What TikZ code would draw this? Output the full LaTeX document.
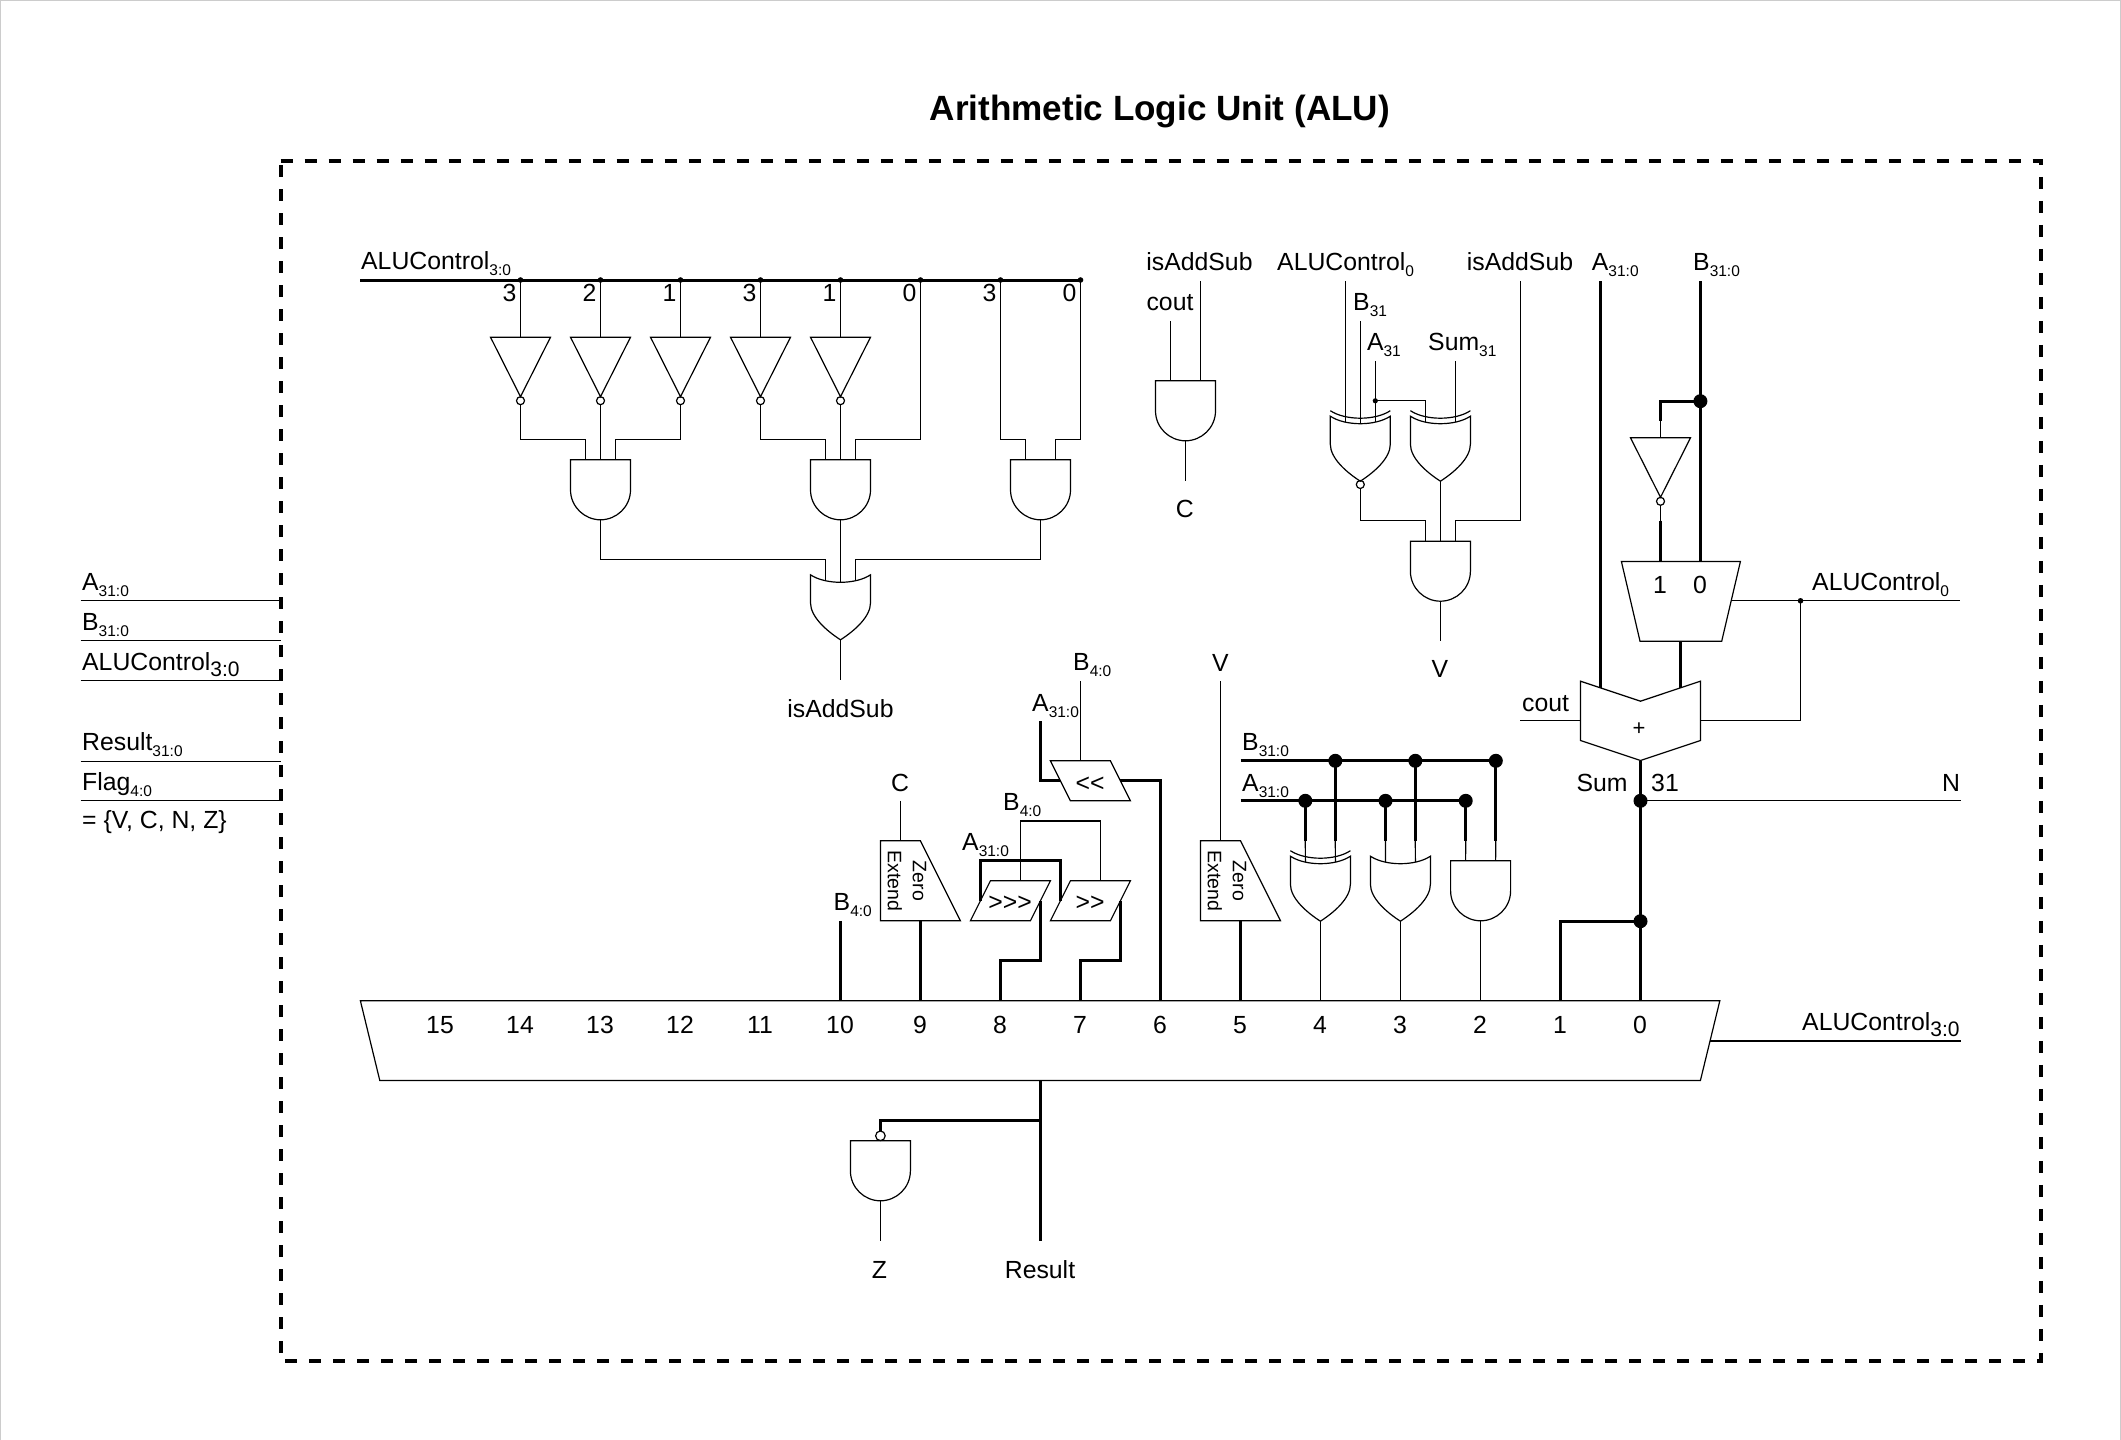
\documentclass[tikz,border=0pt]{standalone}
\usepackage{fontspec}
\setmainfont{Liberation Sans}
\newcommand{\lsub}[1]{\raisebox{-6pt}{\fontsize{15.5}{15.5}\selectfont #1}}
\newcommand{\bsub}[1]{\raisebox{-6pt}{\fontsize{21}{21}\selectfont #1}}
\tikzset{
  gatepath/.style={draw,line width=1.2pt,line join=miter},
  wire/.style={line width=1.2pt},
  midwire/.style={line width=2pt},
  buswire/.style={line width=3pt},
  lab/.style={inner sep=0pt,font=\fontsize{24.8}{28}\selectfont,anchor=base},
  labw/.style={lab,anchor=base west},
  andg/.pic={
    \draw[gatepath] (-30,0)--(30,0)--(30,30) .. controls (30,47) and (16,60) .. (0,60) .. controls (-16,60) and (-30,47) .. (-30,30) -- cycle;
    \coordinate (-l) at (-15,0); \coordinate (-m) at (0,0); \coordinate (-r) at (15,0); \coordinate (-out) at (0,60);
  },
  org/.pic={
    \draw[gatepath] (-30,0) .. controls (-15,10) and (15,10) .. (30,0) -- (30,28) .. controls (30,42) and (14,56) .. (0,65) .. controls (-14,56) and (-30,42) .. (-30,28) -- cycle;
    \coordinate (-l) at (-15,5.6); \coordinate (-m) at (0,7.5); \coordinate (-r) at (15,5.6); \coordinate (-out) at (0,65);
  },
  xorg/.pic={
    \draw[gatepath] (-30,0) .. controls (-15,10) and (15,10) .. (30,0) -- (30,28) .. controls (30,42) and (14,56) .. (0,65) .. controls (-14,56) and (-30,42) .. (-30,28) -- cycle;
    \draw[gatepath] (-30,-5.5) .. controls (-15,4.5) and (15,4.5) .. (30,-5.5);
    \coordinate (-l) at (-15,5.6); \coordinate (-m) at (0,7.5); \coordinate (-r) at (15,5.6); \coordinate (-out) at (0,65);
  },
  invg/.pic={
    \draw[gatepath] (-30,0)--(30,0)--(0,59.5)--cycle;
    \draw[gatepath] (0,63.5) circle[radius=4];
    \coordinate (-in) at (0,0); \coordinate (-out) at (0,67.5);
  },
  rshift/.pic={
    \draw[gatepath] (-20,-20)--(40,-20)--(20,20)--(-40,20)--cycle;
    \coordinate (-w) at (-30,0); \coordinate (-e) at (30,0); \coordinate (-t) at (10,-20);
  },
  lshift/.pic={
    \draw[gatepath] (-40,-20)--(20,-20)--(40,20)--(-20,20)--cycle;
    \coordinate (-w) at (-30,0); \coordinate (-e) at (30,0); \coordinate (-t) at (-10,-20);
  },
  zext/.pic={
    \draw[gatepath] (0,0)--(40,0)--(80,80)--(0,80)--cycle;
    \coordinate (-t) at (20,0); \coordinate (-b) at (40,80);
    \node[inner sep=0pt,rotate=-90,align=center,font=\fontsize{19.5}{25}\selectfont] (-txt) at (26.5,40) {Zero\\Extend};
  },
}
\begin{document}
\begin{tikzpicture}[x=1pt,y=-1pt]
\useasboundingbox (0,-0.5) rectangle (2121,1439.5);
% frame
\definecolor{framegray}{HTML}{CCCCCC}
\coordinate (fa) at (0.7,1440); \coordinate (fb) at (0.7,0.2); \coordinate (fc) at (2120.2,0.2); \coordinate (fd) at (2120.2,1440);
\draw[framegray,line width=1.4pt] (fa)--(fb)--(fc)--(fd);
% title and dashed box
\node[inner sep=0pt,anchor=base,font=\fontsize{35.1}{40}\selectfont\bfseries] (title) at (1159.8,120) {Arithmetic Logic Unit (ALU)};
\coordinate (ba) at (280.5,160.3); \coordinate (bb) at (2040.5,160.3); \coordinate (bc) at (2040.5,1360.3); \coordinate (bd) at (280.5,1360.3);
\draw[line width=4pt,dash pattern=on 12pt off 12pt] (ba)--(bb)--(bc)--(bd)--cycle;
% left ports
\foreach \n/\y in {pa/600.3,pb/640.3,pc/680,pd/760.7,pe/800.3}{
  \coordinate (\n l) at (80.7,\y); \coordinate (\n r) at (280.5,\y);
  \draw[wire] (\n l)--(\n r);
}
\node[labw] (ln1) at (82,590) {A\lsub{31:0}};
\node[labw] (ln2) at (82,629.5) {B\lsub{31:0}};
\node[labw] (ln3) at (82,670) {ALUControl\bsub{3:0}};
\node[labw] (ln4) at (82,750) {Result\lsub{31:0}};
\node[labw] (ln5) at (82,790) {Flag\lsub{4:0}};
\node[labw] (ln6) at (82,827.5) {= \{V, C, N, Z\}};
% ALUControl bus
\coordinate (bus0) at (360,279.5);
\foreach \i/\x in {1/520.5,2/600.5,3/680.5,4/760.5,5/840.5,6/920.5,7/1000.5,8/1080.5}{\coordinate (t\i) at (\x,279.5);}
\draw[buswire] (bus0)--(t8);
\foreach \i in {1,...,8}{\fill (t\i) circle[radius=2.8];}
\node[labw] (lbus) at (361,269) {ALUControl\lsub{3:0}};
\foreach \i/\d in {1/3,2/2,3/1,4/3,5/1,6/0,7/3,8/0}{
  \node[lab] (dg\i) at ({429.5+80*\i},301.2) {\d};
}
% inverters
\pic (i1) at (520.5,336.7) {invg};
\pic (i2) at (600.5,336.7) {invg};
\pic (i3) at (680.5,336.7) {invg};
\pic (i4) at (760.5,336.7) {invg};
\pic (i5) at (840.5,336.7) {invg};
\foreach \i in {1,...,5}{\draw[wire] (t\i)--(i\i-in);}
% ANDs
\pic (a1) at (600.5,459.3) {andg};
\pic (a2) at (840.5,459.3) {andg};
\pic (a3) at (1040.5,459.3) {andg};
\draw[wire] (i1-out) |- (a1-l |- 0,439.3) -- (a1-l);
\draw[wire] (i2-out) -- (a1-m);
\draw[wire] (i3-out) |- (a1-r |- 0,439.3) -- (a1-r);
\draw[wire] (i4-out) |- (a2-l |- 0,439.3) -- (a2-l);
\draw[wire] (i5-out) -- (a2-m);
\draw[wire] (t6) |- (a2-r |- 0,439.3) -- (a2-r);
\draw[wire] (t7) |- (a3-l |- 0,439.3) -- (a3-l);
\draw[wire] (t8) |- (a3-r |- 0,439.3) -- (a3-r);
% OR isAddSub
\pic (o1) at (840.5,574.3) {org};
\draw[wire] (a1-out) |- (o1-l |- 0,559.3) -- (o1-l);
\draw[wire] (a2-out) -- (o1-m);
\draw[wire] (a3-out) |- (o1-r |- 0,559.3) -- (o1-r);
\coordinate (o1e) at (840.5,679.3);
\draw[wire] (o1-out)--(o1e);
\node[lab] (lisa) at (840.5,717.2) {isAddSub};
% C gate
\pic (a4) at (1185.5,380.3) {andg};
\coordinate (cin1) at (1170.5,320.7); \coordinate (cin2) at (1200.5,280.7); \coordinate (cout1) at (1185.5,480.7);
\draw[wire] (cin1)--(a4-l);
\draw[wire] (cin2)--(a4-r);
\draw[wire] (a4-out)--(cout1);
\node[lab] (lisb) at (1199.5,270) {isAddSub};
\node[lab] (lcout) at (1170,310) {cout};
\node[lab] (lc) at (1184.7,517) {C};
% V gate
\pic (xn) at (1360.3,415.7) {xorg};
\pic (xo) at (1440.4,415.7) {xorg};
\pic (a5) at (1440.4,540.7) {andg};
\draw[gatepath] (1360.3,484) circle[radius=4];
\coordinate (xnout) at (1360.3,488);
\coordinate (vin1) at (1345.3,280.7); \coordinate (vin2) at (1360.3,320.7); \coordinate (vin3) at (1375.3,360.7);
\coordinate (vjn) at (1375.3,400.3); \coordinate (vin4) at (1455.4,360.7); \coordinate (vin5) at (1520.4,280.7); \coordinate (vout) at (1440.4,640.7);
\draw[wire] (vin1)--(xn-l);
\draw[wire] (vin2)--(xn-m);
\draw[wire] (vin3)--(xn-r);
\fill (vjn) circle[radius=2.6];
\draw[wire] (vjn) -| (xo-l);
\draw[wire] (vin4)--(xo-r);
\draw[wire] (xnout) |- (a5-l |- 0,520.3) -- (a5-l);
\draw[wire] (xo-out)--(a5-m);
\draw[wire] (vin5) |- (a5-r |- 0,520.3) -- (a5-r);
\draw[wire] (a5-out)--(vout);
\node[labw] (lctl0) at (1277,270) {ALUControl\lsub{0}};
\node[labw] (lb31) at (1353,310) {B\lsub{31}};
\node[labw] (la31) at (1366.8,350) {A\lsub{31}};
\node[labw] (lsum31) at (1428,350) {Sum\lsub{31}};
\node[lab] (lisc) at (1520,270) {isAddSub};
\node[lab] (lv2) at (1440,677.2) {V};
% adder and mux
\coordinate (ain) at (1600.5,280.7); \coordinate (aadd) at (1600.5,687.4);
\coordinate (bin) at (1700.4,280.7); \coordinate (bjn) at (1700.4,400.7); \coordinate (bmux) at (1700.4,561);
\coordinate (ibend) at (1660.5,420); \coordinate (ibot) at (1660.5,520); \coordinate (imux) at (1660.5,561);
\pic (i6) at (1660.5,437.3) {invg};
\draw[gatepath] (1621.4,561)--(1740.4,561)--(1721.7,640.7)--(1640,640.7)--cycle;
\coordinate (mout) at (1680.6,640.7); \coordinate (madd) at (1680.6,687.4);
\draw[buswire] (ain)--(aadd);
\draw[buswire] (bin)--(bmux);
\fill (bjn) circle[radius=7];
\draw[buswire] (bjn) -| (ibend);
\draw[wire] (ibend)--(i6-in);
\draw[wire] (i6-out)--(ibot);
\draw[buswire] (ibot)--(imux);
\draw[buswire] (mout)--(madd);
\draw[gatepath] (1580.5,680.7)--(1640.5,700.7)--(1700.4,680.7)--(1700.4,740)--(1640.5,760)--(1580.5,740)--cycle;
\coordinate (msel) at (1731,600.3); \coordinate (mselj) at (1800.5,600.3); \coordinate (mselr) at (1960.4,600.3); \coordinate (addr) at (1700.4,720.2);
\coordinate (coute) at (1520.4,720.2); \coordinate (addl) at (1580.5,720.2);
\draw[wire] (msel)--(mselr);
\fill (mselj) circle[radius=2.8];
\draw[wire] (mselj) |- (addr);
\draw[wire] (coute)--(addl);
\node[labw] (la310) at (1591.7,270) {A\lsub{31:0}};
\node[labw] (lb310) at (1693,270) {B\lsub{31:0}};
\node[lab] (lm1) at (1660,593) {1};
\node[lab] (lm0) at (1700,593) {0};
\node[labw] (lctl0r) at (1812,590) {ALUControl\lsub{0}};
\node[labw] (lcout2) at (1522,710.5) {cout};
\node[inner sep=0pt,font=\fontsize{22}{24}\selectfont] (lplus) at (1639,728.5) {+};
\coordinate (addt) at (1640.5,760); \coordinate (sj1) at (1640.5,800.3); \coordinate (sj2) at (1640.5,920.7);
\coordinate (m0) at (1640.5,1000.3); \coordinate (m1) at (1560.5,1000.3); \coordinate (nend) at (1960.6,800.3);
\draw[buswire] (addt)--(m0);
\fill (sj1) circle[radius=7];
\fill (sj2) circle[radius=7];
\draw[wire] (sj1)--(nend);
\draw[buswire] (sj2) -| (m1);
\node[lab] (lsum) at (1602,790.5) {Sum};
\node[lab] (l31) at (1665,790.5) {31};
\node[lab] (ln) at (1951,790.5) {N};
% result mux
\draw[gatepath] (360.4,1000.3)--(1719.8,1000.3)--(1700.4,1080)--(379.8,1080)--cycle;
\foreach \i/\d in {0/15,1/14,2/13,3/12,4/11,5/10,6/9,7/8,8/7,9/6,10/5,11/4,12/3,13/2,14/1,15/0}{
  \node[lab] (md\i) at ({440+80*\i},1032.5) {\d};
}
\coordinate (msr) at (1710.2,1040); \coordinate (msre) at (1960.6,1040);
\draw[midwire] (msr)--(msre);
\node[labw] (lctlr) at (1802,1030) {ALUControl\bsub{3:0}};
% logic gates 4 3 2
\coordinate (bw) at (1240.7,760.3); \coordinate (be) at (1495.8,760.3); \coordinate (aw) at (1240.7,800.3); \coordinate (ae) at (1465.7,800.3);
\coordinate (b1) at (1335.3,760.3); \coordinate (b2) at (1415.3,760.3); \coordinate (a01) at (1305.3,800.3); \coordinate (a02) at (1385.5,800.3);
\coordinate (b1e) at (1335.3,840); \coordinate (b2e) at (1415.3,840); \coordinate (b3e) at (1495.8,840);
\coordinate (a1e) at (1305.3,840); \coordinate (a2e) at (1385.5,840); \coordinate (a3e) at (1465.7,840);
\pic (gx) at (1320.4,855.7) {xorg};
\pic (go) at (1400.4,855.7) {org};
\pic (ga) at (1480.6,860.3) {andg};
\draw[buswire] (bw)--(be);
\draw[buswire] (aw)--(ae);
\draw[buswire] (b1)--(b1e); \draw[buswire] (b2)--(b2e); \draw[buswire] (be)--(b3e);
\draw[buswire] (a01)--(a1e); \draw[buswire] (a02)--(a2e); \draw[buswire] (ae)--(a3e);
\foreach \c in {b1,b2,be,a01,a02,ae}{\fill (\c) circle[radius=7];}
\draw[wire] (a1e)--(gx-l); \draw[wire] (b1e)--(gx-r);
\draw[wire] (a2e)--(go-l); \draw[wire] (b2e)--(go-r);
\draw[wire] (a3e)--(ga-l); \draw[wire] (b3e)--(ga-r);
\coordinate (m4) at (1320.4,1000.3); \coordinate (m3) at (1400.4,1000.3); \coordinate (m2) at (1480.6,1000.3);
\draw[wire] (gx-out)--(m4); \draw[wire] (go-out)--(m3); \draw[wire] (ga-out)--(m2);
\node[labw] (lb3) at (1242,750) {B\lsub{31:0}};
\node[labw] (la3) at (1242,791) {A\lsub{31:0}};
% zero extends
\pic (z1) at (880.4,840.3) {zext};
\pic (z2) at (1200.5,840.3) {zext};
\coordinate (cz) at (900.4,800.3); \coordinate (vz) at (1220.5,680.7);
\coordinate (m9) at (920.4,1000.3); \coordinate (m5) at (1240.5,1000.3);
\coordinate (b10) at (840.5,920.3); \coordinate (m10) at (840.5,1000.3);
\draw[wire] (cz)--(z1-t);
\draw[wire] (vz)--(z2-t);
\draw[buswire] (z1-b)--(m9);
\draw[buswire] (z2-b)--(m5);
\draw[buswire] (b10)--(m10);
\node[lab] (lcz) at (900,790.5) {C};
\node[lab] (lvz) at (1220.5,670.5) {V};
\node[labw] (lb40a) at (833.5,909.7) {B\lsub{4:0}};
% shifters
\pic (s1) at (1010.4,900.3) {rshift};
\pic (s2) at (1090.4,900.3) {rshift};
\pic (s3) at (1090.4,780.3) {lshift};
\node[lab] (ts1) at (1010,910) {>\kern0pt>\kern0pt>};
\node[lab] (ts2) at (1090,910) {>\kern0pt>};
\node[lab] (ts3) at (1090,790.5) {<\kern0pt<};
\coordinate (s3a) at (1040.6,720.7); \coordinate (s3b) at (1080.4,680.7);
\coordinate (m6) at (1160.4,1000.3); \coordinate (m8) at (1000.4,1000.3); \coordinate (m7) at (1080.4,1000.3);
\draw[buswire] (s3a) |- (s3-w);
\draw[line width=1.6pt] (s3b)--(s3-t);
\draw[buswire] (s3-e) -| (m6);
\draw[line width=1.6pt] (s1-t) |- (1100.4,820.3) -- (s2-t);
\draw[buswire] (s1-w) |- (1060.4,860) -- (s2-w);
\draw[buswire] (s1-e) |- (1000.4,960.3) -- (m8);
\draw[buswire] (s2-e) |- (1080.4,960.3) -- (m7);
\node[labw] (lb40b) at (1073,670.3) {B\lsub{4:0}};
\node[labw] (la31b) at (1032,710.5) {A\lsub{31:0}};
\node[labw] (lb40c) at (1003,810) {B\lsub{4:0}};
\node[labw] (la31c) at (962,850) {A\lsub{31:0}};
% result and Z
\pic (nz) at (880.4,1140.3) {andg};
\draw[gatepath] (880.4,1135.3) circle[radius=4.8];
\coordinate (rt) at (1040.5,1080); \coordinate (rb) at (1040.5,1240); \coordinate (rj) at (1040.5,1120.3);
\coordinate (nin) at (880.4,1130.5); \coordinate (zend) at (880.4,1240);
\draw[buswire] (rt)--(rb);
\draw[buswire] (rj) -| (nin);
\draw[wire] (nz-out)--(zend);
\node[lab] (lz) at (879.5,1278) {Z};
\node[lab] (lres) at (1040,1278) {Result};
\end{tikzpicture}
\end{document}
